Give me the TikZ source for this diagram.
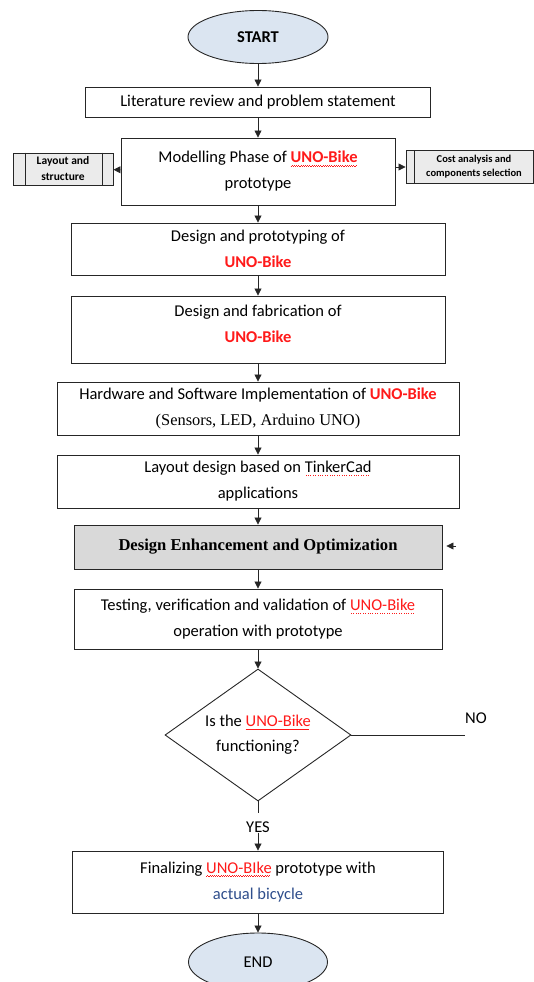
\documentclass[tikz,border=0pt]{standalone}
\usepackage{fontspec}
\setmainfont{Carlito}
\newfontfamily\timesf{Liberation Serif}
\usetikzlibrary{shapes.geometric,arrows.meta}
\definecolor{unored}{HTML}{FF1A1A}
\definecolor{ellfill}{HTML}{DBE5F1}
\definecolor{enhfill}{HTML}{D9D9D9}
\definecolor{sidefill}{HTML}{EBEBEB}
\definecolor{bikeblue}{HTML}{2F4E8C}
\newcommand\uno{\textcolor{unored}{UNO-Bike}}
\newcommand\ulpat[2]{\setbox0=\hbox{#2}\leavevmode\rlap{\copy0}\raisebox{-3.2pt}{\hbox to \wd0{\color{unored}\leaders\hbox{#1}\hfill}}}
\newcommand\wavy[1]{\ulpat{\hbox to 2.2pt{\rule{1.1pt}{0.6pt}\rule[0.9pt]{1.1pt}{0.6pt}}}{#1}}
\newcommand\reddots[1]{\ulpat{\hbox to 2.4pt{\hss\rule{0.8pt}{0.8pt}\hss}}{#1}}
\begin{document}
\begin{tikzpicture}[x=1pt,y=-1pt,
  box/.style={draw=black!85, line width=0.9pt, fill=white, align=center, inner sep=0pt,
    font=\fontsize{16.5}{26}\selectfont},
  ell/.style={ellipse, draw=black!85, line width=0.9pt, fill=ellfill, inner sep=0pt,
    font=\fontsize{16.5}{18}\selectfont\bfseries},
  side/.style={draw=black!85, line width=0.9pt, fill=sidefill, align=center, inner sep=0pt},
  arr/.style={-{Triangle[length=7pt,width=7pt]}, line width=0.8pt, draw=black!85},
  ln/.style={line width=0.8pt, draw=black!85},
  lab/.style={font=\fontsize{16.5}{18}\selectfont, inner sep=0pt}]
\useasboundingbox (0,0) rectangle (533,982);

\node[ell, minimum width=140pt, minimum height=53pt] (start) at (258,37) {START};
\node[box, minimum width=345pt, minimum height=30pt] (lit) at (258,102) {Literature review and problem statement};
\node[box, minimum width=274pt, minimum height=67pt] (model) at (258,171.5) {Modelling Phase of \textbf{\textcolor{unored}{\wavy{UNO-Bike}}}\\prototype};
\node[side, minimum width=100pt, minimum height=32pt, font=\fontsize{11.5}{16}\selectfont\bfseries] (lay) at (63,169) {Layout and\\structure};
\draw[ln] ([xshift=13pt]lay.north west) -- ([xshift=13pt]lay.south west);
\draw[ln] ([xshift=-11pt]lay.north east) -- ([xshift=-11pt]lay.south east);
\node[side, minimum width=127pt, minimum height=33pt, font=\fontsize{10.5}{14}\selectfont\bfseries] (cost) at (469.5,167) {\hspace*{9pt}Cost analysis and\\\hspace*{9pt}components selection};
\draw[ln] ([xshift=9pt]cost.north west) -- ([xshift=9pt]cost.south west);

\node[box, minimum width=374pt, minimum height=52pt] (d1) at (258,249) {Design and prototyping of\\\textbf{\uno}};
\node[box, minimum width=374pt, minimum height=67pt] (d2) at (258,329.5) {};
\node[lab, align=center, font=\fontsize{16.5}{26}\selectfont, yshift=6pt] (d2t) at (d2.center) {Design and fabrication of\\\textbf{\uno}};
\node[box, minimum width=402pt, minimum height=53pt] (hw) at (258,408.5) {Hardware and Software Implementation of \textbf{\uno}\\{\timesf\fontsize{16.4}{26}\selectfont (Sensors, LED, Arduino UNO)}};
\node[box, minimum width=402pt, minimum height=53pt] (lyt) at (258,481.5) {Layout design based on \reddots{TinkerCad}\\applications};
\node[box, fill=enhfill, minimum width=368pt, minimum height=44pt, font=\timesf\fontsize{16.6}{18}\selectfont\bfseries] (enh) at (258,547) {Design Enhancement and Optimization};
\node[box, minimum width=368pt, minimum height=60pt] (test) at (258,619) {Testing, verification and validation of \textcolor{unored}{\reddots{UNO-Bike}}\\operation with prototype};
\node[diamond, aspect=1.41, draw=black!85, line width=0.9pt, fill=white, inner sep=0pt, align=center,
  minimum width=186pt, minimum height=132pt, font=\fontsize{16.5}{25}\selectfont] (dec) at (258,735) {Is the \textcolor{unored}{\wavy{UNO-Bike}}\\functioning?};
\coordinate (noend) at (465,735);
\node[lab, anchor=west] (no) at (465,718) {NO};
\coordinate (yesend) at (258,813);
\node[lab] (yes) at (258,827) {YES};
\node[box, minimum width=371pt, minimum height=62pt] (fin) at (258,882) {Finalizing \textcolor{unored}{\wavy{UNO-BIke}} prototype with\\\textcolor{bikeblue}{actual bicycle}};
\node[ell, minimum width=139pt, minimum height=58pt, font=\fontsize{16.5}{18}\selectfont] (end) at (258,962) {END};
\coordinate (fb) at (456,546);

\draw[arr] (start) -- (lit);
\draw[arr] (lit) -- (model);
\draw[arr] (model) -- (lay);
\draw[arr] (model.east |- cost) -- (cost);
\draw[arr] (model) -- (d1);
\draw[arr] (d1) -- (d2);
\draw[arr] (d2) -- (hw);
\draw[arr] (hw) -- (lyt);
\draw[arr] (lyt) -- (enh);
\draw[arr] (enh) -- (test);
\draw[arr] (test) -- (dec);
\draw[ln] (dec.east) -- (noend);
\draw[ln] (dec.south) -- (yesend);
\draw[arr] (yes) -- (fin);
\draw[arr] (fin) -- (end);
\draw[arr, shorten >=4pt] (fb) -- (enh.east |- fb);
\end{tikzpicture}
\end{document}
